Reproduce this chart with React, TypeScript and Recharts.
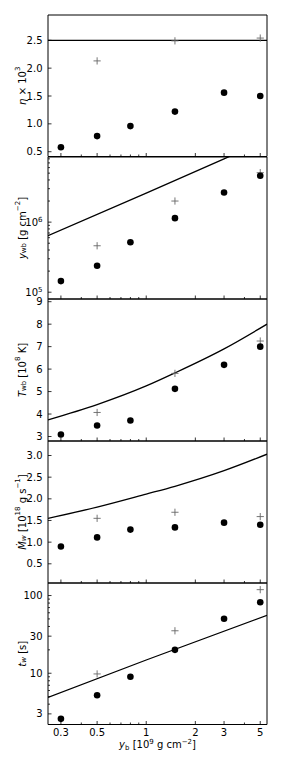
import React from 'react';
import { ComposedChart, XAxis, YAxis, Line, Scatter, ReferenceArea, ReferenceLine, Label } from 'recharts';

// x positions (y_b, 10^9 g cm^-2)
const ybDots = [0.3, 0.5, 0.8, 1.5, 3, 5];
const ybCross = [0.5, 1.5, 5];
const ybCurve = [0.25, 0.5, 1, 1.5, 3, 5.5];
const ybYwbLine = [0.25, 1, 3, 5.5];
const ybTwLine = [0.25, 1, 5.5];

// eta x 10^3
const etaDots = [0.58, 0.78, 0.96, 1.22, 1.56, 1.5];
const etaCross = [2.13, 2.49, 2.54];
const etaModel = 2.5;

// y_wb [g cm^-2]
const ywbDots = [1.44e5, 2.38e5, 5.17e5, 1.14e6, 2.65e6, 4.6e6];
const ywbCross = [4.6e5, 2.0e6, 5.08e6];
const ywbModel = [6.4e5, 2.6e6, 8.0e6, 1.5e7];

// T_wb [10^8 K]
const twbDots = [3.09, 3.49, 3.71, 5.12, 6.19, 7.0];
const twbCross = [4.07, 5.81, 7.25];
const twbModel = [3.74, 4.42, 5.25, 5.83, 6.9, 8.0];

// Mdot_w [10^18 g s^-1]
const mwDots = [0.9, 1.11, 1.29, 1.34, 1.45, 1.4];
const mwCross = [1.55, 1.69, 1.59];
const mwModel = [1.55, 1.81, 2.11, 2.29, 2.65, 3.03];

// t_w [s]
const twDots = [2.59, 5.2, 9.0, 20.0, 50.2, 81.8];
const twCross = [9.8, 35.2, 119];
const twModel = [4.9, 14.8, 55.7];

const xDomain = [0.25, 5.5];
const xMajor = [0.3, 0.5, 1, 2, 3, 5];
const xMinor = [0.4, 0.6, 0.7, 0.8, 0.9, 4];

const font = 'DejaVu Sans, sans-serif';
const pts = (xs: number[], ys: number[]) => xs.map((x, i) => ({ x, y: ys[i] }));

const Dot = (p: any) => <circle cx={p.cx} cy={p.cy} r={3.3} fill="#000" />;
const Cross = (p: any) => (
  <path
    d={`M${p.cx - 3.6},${p.cy}H${p.cx + 3.6}M${p.cx},${p.cy - 3.6}V${p.cy + 3.6}`}
    stroke="#666"
    strokeWidth={0.9}
    fill="none"
  />
);

function XTick({ x, y, payload, showLabel }: any) {
  const major = xMajor.includes(payload.value);
  return (
    <g>
      <line x1={x} x2={x} y1={y} y2={y - (major ? 3.5 : 2)} stroke="#000" strokeWidth={0.8} />
      {showLabel && major && (
        <text x={x} y={y + 11.5} textAnchor="middle" fontSize={10} fontFamily={font} fill="#000">
          {String(payload.value)}
        </text>
      )}
    </g>
  );
}

function YTick({ x, y, payload, majors, fmt }: any) {
  const major = majors.includes(payload.value);
  return (
    <g>
      <line x1={x} x2={x + (major ? 3.5 : 2)} y1={y} y2={y} stroke="#000" strokeWidth={0.8} />
      {major && (
        <text x={x - 5.5} y={y} dy="0.35em" textAnchor="end" fontSize={10} fontFamily={font} fill="#000">
          {fmt(payload.value)}
        </text>
      )}
    </g>
  );
}

const logFmt = (v: number) => (
  <>
    10<tspan dy={-4} fontSize={7}>{String(Math.round(Math.log10(v)))}</tspan>
  </>
);

type PanelProps = {
  top: number;
  height: number;
  yDomain: number[];
  yLog?: boolean;
  yMajor: number[];
  yMinor?: number[];
  fmt: (v: number) => any;
  dots: { x: number; y: number }[];
  crosses: { x: number; y: number }[];
  model?: { x: number; y: number }[];
  hline?: number;
  curve?: 'linear' | 'monotone';
  title: any;
  last?: boolean;
};

function Panel(props: PanelProps) {
  const { top, height, yDomain, yLog, yMajor, yMinor = [], fmt, dots, crosses, model, hline, curve, title, last } = props;
  const padTop = 10;
  const axisH = last ? 36 : 10;
  const chartH = height + padTop + axisH;
  const plotBottom = padTop + height;
  return (
    <div style={{ position: 'absolute', left: 0, top: top - padTop }}>
      <ComposedChart width={281} height={chartH} margin={{ top: padTop, right: 14, bottom: 0, left: 0 }}>
        <XAxis
          dataKey="x"
          type="number"
          scale="log"
          domain={xDomain}
          allowDataOverflow
          ticks={[...xMajor, ...xMinor]}
          interval={0}
          tickSize={0}
          tickMargin={0}
          axisLine={false}
          tickLine={false}
          height={axisH}
          tick={(p: any) => <XTick {...p} showLabel={last} />}
        >
          {last && (
            <Label
              content={() => (
                <text x={157.5} y={plotBottom + 23} textAnchor="middle" fontSize={10} fontFamily={font} fill="#000">
                  <tspan fontStyle="italic">y</tspan>
                  <tspan dy={2} fontSize={7}>b</tspan>
                  <tspan dy={-2}> [10</tspan>
                  <tspan dy={-4} fontSize={7}>9</tspan>
                  <tspan dy={4}> g cm</tspan>
                  <tspan dy={-4} fontSize={7}>−2</tspan>
                  <tspan dy={4}>]</tspan>
                </text>
              )}
            />
          )}
        </XAxis>
        <YAxis
          dataKey="y"
          type="number"
          scale={yLog ? 'log' : 'linear'}
          domain={yDomain}
          allowDataOverflow
          ticks={[...yMajor, ...yMinor]}
          interval={0}
          tickSize={0}
          tickMargin={0}
          axisLine={false}
          tickLine={false}
          width={48}
          tick={(p: any) => <YTick {...p} majors={yMajor} fmt={fmt} />}
        >
          <Label
            content={() => {
              const cy = padTop + height / 2;
              return (
                <text
                  x={21.5}
                  y={cy}
                  transform={`rotate(-90, 21.5, ${cy})`}
                  textAnchor="middle"
                  dominantBaseline="central"
                  fontSize={10}
                  fontFamily={font}
                  fill="#000"
                >
                  {title}
                </text>
              );
            }}
          />
        </YAxis>
        {hline !== undefined && <ReferenceLine y={hline} stroke="#000" strokeWidth={1.3} ifOverflow="hidden" />}
        {model && (
          <Line
            data={model}
            dataKey="y"
            type={curve || 'linear'}
            stroke="#000"
            strokeWidth={1.3}
            dot={false}
            isAnimationActive={false}
          />
        )}
        <Scatter data={crosses} dataKey="y" shape={Cross} isAnimationActive={false} />
        <Scatter data={dots} dataKey="y" shape={Dot} isAnimationActive={false} />
        <ReferenceArea
          x1={xDomain[0]}
          x2={xDomain[1]}
          y1={yDomain[0]}
          y2={yDomain[1]}
          fill="none"
          fillOpacity={0}
          stroke="#000"
          strokeWidth={1}
          ifOverflow="visible"
        />
      </ComposedChart>
    </div>
  );
}

export default function App() {
  return (
    <div style={{ position: 'absolute', left: 0, top: 0, width: 281, height: 763, background: '#fff' }}>
      <Panel
        top={15}
        height={141.5}
        yDomain={[0.414, 2.954]}
        yMajor={[0.5, 1.0, 1.5, 2.0, 2.5]}
        fmt={(v) => v.toFixed(1)}
        dots={pts(ybDots, etaDots)}
        crosses={pts(ybCross, etaCross)}
        hline={etaModel}
        title={
          <>
            <tspan fontStyle="italic">η</tspan>
            <tspan> × 10</tspan>
            <tspan dy={-4} fontSize={7}>3</tspan>
          </>
        }
      />
      <Panel
        top={156.5}
        height={142}
        yDomain={[8.0e4, 8.5e6]}
        yLog
        yMajor={[1e5, 1e6]}
        yMinor={[2e5, 3e5, 4e5, 5e5, 6e5, 7e5, 8e5, 9e5, 2e6, 3e6, 4e6, 5e6, 6e6, 7e6, 8e6]}
        fmt={logFmt}
        dots={pts(ybDots, ywbDots)}
        crosses={pts(ybCross, ywbCross)}
        model={pts(ybYwbLine, ywbModel)}
        title={
          <>
            <tspan fontStyle="italic">y</tspan>
            <tspan dy={2} fontSize={7}>wb</tspan>
            <tspan dy={-2}> [g cm</tspan>
            <tspan dy={-4} fontSize={7}>−2</tspan>
            <tspan dy={4}>]</tspan>
          </>
        }
      />
      <Panel
        top={298.5}
        height={142}
        yDomain={[2.8, 9.12]}
        yMajor={[3, 4, 5, 6, 7, 8, 9]}
        fmt={(v) => String(v)}
        dots={pts(ybDots, twbDots)}
        crosses={pts(ybCross, twbCross)}
        model={pts(ybCurve, twbModel)}
        curve="monotone"
        title={
          <>
            <tspan fontStyle="italic">T</tspan>
            <tspan dy={2} fontSize={7}>wb</tspan>
            <tspan dy={-2}> [10</tspan>
            <tspan dy={-4} fontSize={7}>8</tspan>
            <tspan dy={4}> K]</tspan>
          </>
        }
      />
      <Panel
        top={440.5}
        height={142}
        yDomain={[0.057, 3.335]}
        yMajor={[0.5, 1.0, 1.5, 2.0, 2.5, 3.0]}
        fmt={(v) => v.toFixed(1)}
        dots={pts(ybDots, mwDots)}
        crosses={pts(ybCross, mwCross)}
        model={pts(ybCurve, mwModel)}
        curve="monotone"
        title={
          <>
            <tspan fontStyle="italic">Ṁ</tspan>
            <tspan dy={2} fontSize={7} fontStyle="italic">w</tspan>
            <tspan dy={-2}> [10</tspan>
            <tspan dy={-4} fontSize={7}>18</tspan>
            <tspan dy={4}> g s</tspan>
            <tspan dy={-4} fontSize={7}>−1</tspan>
            <tspan dy={4}>]</tspan>
          </>
        }
      />
      <Panel
        top={582.5}
        height={141.5}
        yDomain={[2.19, 145]}
        yLog
        yMajor={[3, 10, 30, 100]}
        yMinor={[4, 5, 6, 7, 8, 9, 20, 40, 50, 60, 70, 80, 90]}
        fmt={(v) => String(v)}
        dots={pts(ybDots, twDots)}
        crosses={pts(ybCross, twCross)}
        model={pts(ybTwLine, twModel)}
        title={
          <>
            <tspan fontStyle="italic">t</tspan>
            <tspan dy={2} fontSize={7} fontStyle="italic">w</tspan>
            <tspan dy={-2}> [s]</tspan>
          </>
        }
        last
      />
    </div>
  );
}
